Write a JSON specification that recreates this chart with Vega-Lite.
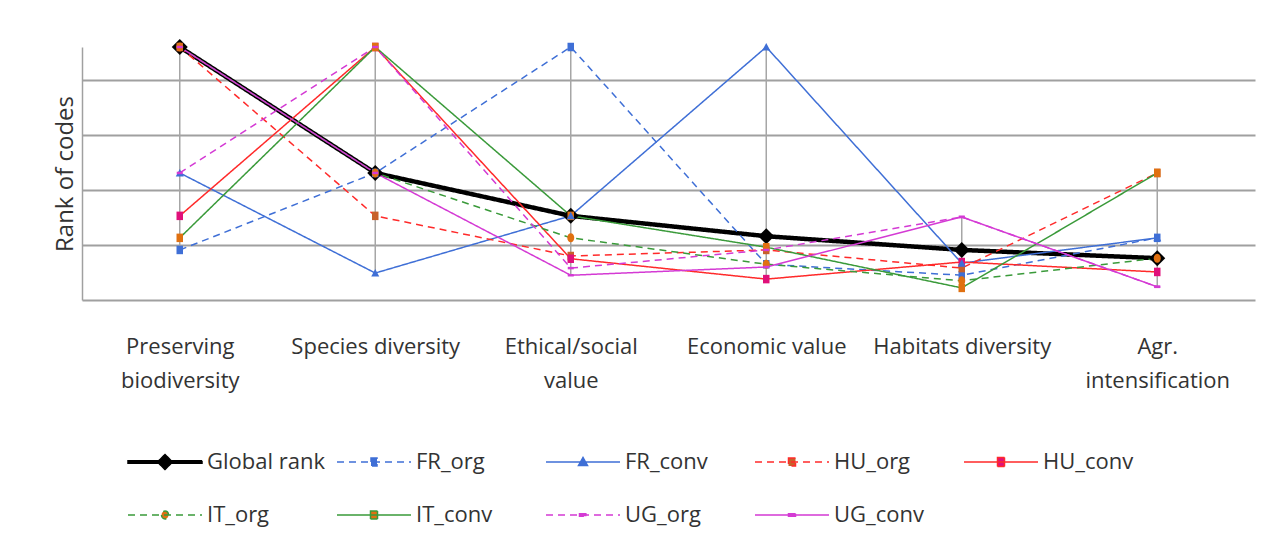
{
  "$schema": "https://vega.github.io/schema/vega-lite/v6.json",
  "width": 1173,
  "height": 253,
  "autosize": {"type": "none"},
  "padding": {"left": 82, "top": 47, "right": 16, "bottom": 244},
  "background": "white",
  "config": {
    "view": {"stroke": null},
    "font": "Open Sans"
  },
  "data": {
    "values": [
      {"category": "Preserving biodiversity", "series": "Global rank", "value": 4.6},
      {"category": "Species diversity", "series": "Global rank", "value": 2.31},
      {"category": "Ethical/social value", "series": "Global rank", "value": 1.53},
      {"category": "Economic value", "series": "Global rank", "value": 1.16},
      {"category": "Habitats diversity", "series": "Global rank", "value": 0.91},
      {"category": "Agr. intensification", "series": "Global rank", "value": 0.76},
      {"category": "Preserving biodiversity", "series": "FR_org", "value": 0.91},
      {"category": "Species diversity", "series": "FR_org", "value": 2.31},
      {"category": "Ethical/social value", "series": "FR_org", "value": 4.6},
      {"category": "Economic value", "series": "FR_org", "value": 0.65},
      {"category": "Habitats diversity", "series": "FR_org", "value": 0.45},
      {"category": "Agr. intensification", "series": "FR_org", "value": 1.13},
      {"category": "Preserving biodiversity", "series": "FR_conv", "value": 2.31},
      {"category": "Species diversity", "series": "FR_conv", "value": 0.49},
      {"category": "Ethical/social value", "series": "FR_conv", "value": 1.53},
      {"category": "Economic value", "series": "FR_conv", "value": 4.6},
      {"category": "Habitats diversity", "series": "FR_conv", "value": 0.67},
      {"category": "Agr. intensification", "series": "FR_conv", "value": 1.13},
      {"category": "Preserving biodiversity", "series": "HU_org", "value": 4.6},
      {"category": "Species diversity", "series": "HU_org", "value": 1.53},
      {"category": "Ethical/social value", "series": "HU_org", "value": 0.8},
      {"category": "Economic value", "series": "HU_org", "value": 0.91},
      {"category": "Habitats diversity", "series": "HU_org", "value": 0.58},
      {"category": "Agr. intensification", "series": "HU_org", "value": 2.31},
      {"category": "Preserving biodiversity", "series": "HU_conv", "value": 1.53},
      {"category": "Species diversity", "series": "HU_conv", "value": 4.6},
      {"category": "Ethical/social value", "series": "HU_conv", "value": 0.75},
      {"category": "Economic value", "series": "HU_conv", "value": 0.38},
      {"category": "Habitats diversity", "series": "HU_conv", "value": 0.69},
      {"category": "Agr. intensification", "series": "HU_conv", "value": 0.51},
      {"category": "Preserving biodiversity", "series": "IT_org", "value": 4.6},
      {"category": "Species diversity", "series": "IT_org", "value": 2.31},
      {"category": "Ethical/social value", "series": "IT_org", "value": 1.13},
      {"category": "Economic value", "series": "IT_org", "value": 0.65},
      {"category": "Habitats diversity", "series": "IT_org", "value": 0.35},
      {"category": "Agr. intensification", "series": "IT_org", "value": 0.76},
      {"category": "Preserving biodiversity", "series": "IT_conv", "value": 1.13},
      {"category": "Species diversity", "series": "IT_conv", "value": 4.6},
      {"category": "Ethical/social value", "series": "IT_conv", "value": 1.53},
      {"category": "Economic value", "series": "IT_conv", "value": 0.96},
      {"category": "Habitats diversity", "series": "IT_conv", "value": 0.22},
      {"category": "Agr. intensification", "series": "IT_conv", "value": 2.31},
      {"category": "Preserving biodiversity", "series": "UG_org", "value": 2.31},
      {"category": "Species diversity", "series": "UG_org", "value": 4.6},
      {"category": "Ethical/social value", "series": "UG_org", "value": 0.58},
      {"category": "Economic value", "series": "UG_org", "value": 0.91},
      {"category": "Habitats diversity", "series": "UG_org", "value": 1.51},
      {"category": "Agr. intensification", "series": "UG_org", "value": 0.24},
      {"category": "Preserving biodiversity", "series": "UG_conv", "value": 4.6},
      {"category": "Species diversity", "series": "UG_conv", "value": 2.31},
      {"category": "Ethical/social value", "series": "UG_conv", "value": 0.45},
      {"category": "Economic value", "series": "UG_conv", "value": 0.6},
      {"category": "Habitats diversity", "series": "UG_conv", "value": 1.51},
      {"category": "Agr. intensification", "series": "UG_conv", "value": 0.24}
    ]
  },
  "encoding": {
    "x": {
      "field": "category",
      "type": "nominal",
      "sort": ["Preserving biodiversity", "Species diversity", "Ethical/social value", "Economic value", "Habitats diversity", "Agr. intensification"],
      "scale": {"type": "point", "padding": 0.5},
      "axis": {
        "title": null,
        "domain": false,
        "ticks": false,
        "grid": false,
        "labelAngle": 0,
        "labelFont": "Open Sans",
        "labelFontSize": 22,
        "labelColor": "#333333",
        "labelPadding": 36,
        "labelLineHeight": 34,
        "labelLimit": 300,
        "labelExpr": "datum.label == 'Preserving biodiversity' ? ['Preserving', 'biodiversity'] : datum.label == 'Ethical/social value' ? ['Ethical/social', 'value'] : datum.label == 'Agr. intensification' ? ['Agr.', 'intensification'] : datum.label"
      }
    },
    "y": {
      "field": "value",
      "type": "quantitative",
      "scale": {"domain": [0, 4.6], "nice": false, "zero": true},
      "axis": {
        "title": "Rank of codes",
        "titleFont": "Open Sans",
        "titleFontSize": 24,
        "titleFontWeight": "normal",
        "titleColor": "#333333",
        "titlePadding": 5,
        "labels": false,
        "ticks": false,
        "values": [0, 1, 2, 3, 4],
        "grid": true,
        "gridColor": "#A0A0A0",
        "gridWidth": 2,
        "domain": true,
        "domainColor": "#A0A0A0",
        "domainWidth": 1.5
      }
    }
  },
  "layer": [
    {
      "mark": {"type": "rule", "color": "#A6A6A6", "strokeWidth": 1.5},
      "encoding": {
        "y": {"aggregate": "min", "field": "value", "type": "quantitative"},
        "y2": {"aggregate": "max", "field": "value"}
      }
    },
    {
      "mark": {"type": "line", "strokeCap": "butt", "strokeJoin": "miter"},
      "encoding": {
        "order": {"value": null},
        "stroke": {
          "field": "series",
          "type": "nominal",
          "scale": {
            "domain": ["Global rank", "FR_org", "FR_conv", "HU_org", "HU_conv", "IT_org", "IT_conv", "UG_org", "UG_conv"],
            "range": ["#000000", "#3F6FD6", "#3F6FD6", "#FF2A2A", "#FF2A2A", "#3A9A3A", "#3A9A3A", "#D43AD4", "#D43AD4"]
          }
        },
        "strokeDash": {
          "field": "series",
          "type": "nominal",
          "scale": {
            "domain": ["Global rank", "FR_org", "FR_conv", "HU_org", "HU_conv", "IT_org", "IT_conv", "UG_org", "UG_conv"],
            "range": [[1, 0], [7, 5], [1, 0], [7, 5], [1, 0], [7, 5], [1, 0], [7, 5], [1, 0]]
          }
        },
        "strokeWidth": {
          "field": "series",
          "type": "nominal",
          "scale": {
            "type": "ordinal",
            "domain": ["Global rank", "FR_org", "FR_conv", "HU_org", "HU_conv", "IT_org", "IT_conv", "UG_org", "UG_conv"],
            "range": [4.5, 1.5, 1.5, 1.5, 1.5, 1.5, 1.5, 1.5, 1.5]
          }
        }
      }
    },
    {
      "transform": [{"filter": "datum.series == 'Global rank'"}],
      "mark": {"type": "point", "filled": true, "opacity": 1, "size": 100, "strokeWidth": 0, "shape": "M-1.6,0L0,-1.6L1.6,0L0,1.6Z"},
      "encoding": {
        "fill": {
          "field": "series",
          "type": "nominal",
          "scale": {
            "domain": ["Global rank", "FR_org", "FR_conv", "HU_org", "HU_conv", "IT_org", "IT_conv", "UG_org", "UG_conv"],
            "range": ["#000000", "#3F6FD6", "#3F6FD6", "#C8602A", "#E0107A", "#E07010", "#E07010", "#D43AD4", "#D43AD4"]
          }
        }
      }
    },
    {
      "transform": [{"filter": "datum.series == 'FR_org' || datum.series == 'HU_org' || datum.series == 'HU_conv' || datum.series == 'IT_conv'"}],
      "mark": {"type": "point", "filled": true, "opacity": 1, "size": 100, "strokeWidth": 0, "shape": "M-0.65,-0.85H0.65V0.85H-0.65Z"},
      "encoding": {"fill": {"field": "series", "type": "nominal"}}
    },
    {
      "transform": [{"filter": "datum.series == 'FR_conv'"}],
      "mark": {"type": "point", "filled": true, "opacity": 1, "size": 100, "strokeWidth": 0, "shape": "M-0.8,0.7L0,-0.8L0.8,0.7Z"},
      "encoding": {"fill": {"field": "series", "type": "nominal"}}
    },
    {
      "transform": [{"filter": "datum.series == 'IT_org'"}],
      "mark": {"type": "point", "filled": true, "opacity": 1, "size": 100, "strokeWidth": 0, "shape": "M-0.7,0A0.7,0.9 0 1,0 0.7,0A0.7,0.9 0 1,0 -0.7,0Z"},
      "encoding": {"fill": {"field": "series", "type": "nominal"}}
    },
    {
      "transform": [{"filter": "datum.series == 'UG_org' || datum.series == 'UG_conv'"}],
      "mark": {"type": "point", "filled": true, "opacity": 1, "size": 100, "strokeWidth": 0, "shape": "M-0.6,-0.25H0.6V0.25H-0.6Z"},
      "encoding": {"fill": {"field": "series", "type": "nominal"}}
    },
    {
      "transform": [{"filter": "datum.value > 100"}],
      "mark": {"type": "point", "filled": true, "opacity": 1, "size": 400},
      "encoding": {
        "shape": {
          "field": "series",
          "type": "nominal",
          "scale": {
            "domain": ["Global rank", "FR_org", "FR_conv", "HU_org", "HU_conv", "IT_org", "IT_conv", "UG_org", "UG_conv"],
            "range": [
              "M-3.7,-0.12H3.7V0.12H-3.7ZM-0.75,0L0,-0.75L0.75,0L0,0.75Z",
              "M-3.7,0H3.7M-0.3,-0.4H0.3V0.4H-0.3Z",
              "M-3.7,0H3.7M-0.45,0.35L0,-0.45L0.45,0.35Z",
              "M-3.7,0H3.7M-0.35,-0.4H0.35V0.4H-0.35Z",
              "M-3.7,0H3.7M-0.35,-0.45H0.35V0.45H-0.35Z",
              "M-3.7,0H3.7M-0.35,0A0.35,0.4 0 1,0 0.35,0A0.35,0.4 0 1,0 -0.35,0Z",
              "M-3.7,0H3.7M-0.35,-0.4H0.35V0.4H-0.35Z",
              "M-3.7,0H3.7M-0.35,-0.12H0.35V0.12H-0.35Z",
              "M-3.7,0H3.7M-0.35,-0.12H0.35V0.12H-0.35Z"
            ]
          },
          "legend": {
            "title": null,
            "orient": "none",
            "legendX": 72,
            "legendY": 404,
            "direction": "horizontal",
            "columns": 5,
            "gridAlign": "all",
            "columnPadding": 8,
            "rowPadding": 31,
            "labelFont": "Open Sans",
            "labelFontSize": 22,
            "labelColor": "#333333",
            "labelOffset": 31,
            "labelLimit": 300,
            "symbolSize": 400,
            "symbolOpacity": 1
          }
        },
        "fill": {"field": "series", "type": "nominal"},
        "stroke": {"field": "series", "type": "nominal"},
        "strokeDash": {"field": "series", "type": "nominal"},
        "strokeWidth": {"field": "series", "type": "nominal"}
      }
    }
  ]
}
